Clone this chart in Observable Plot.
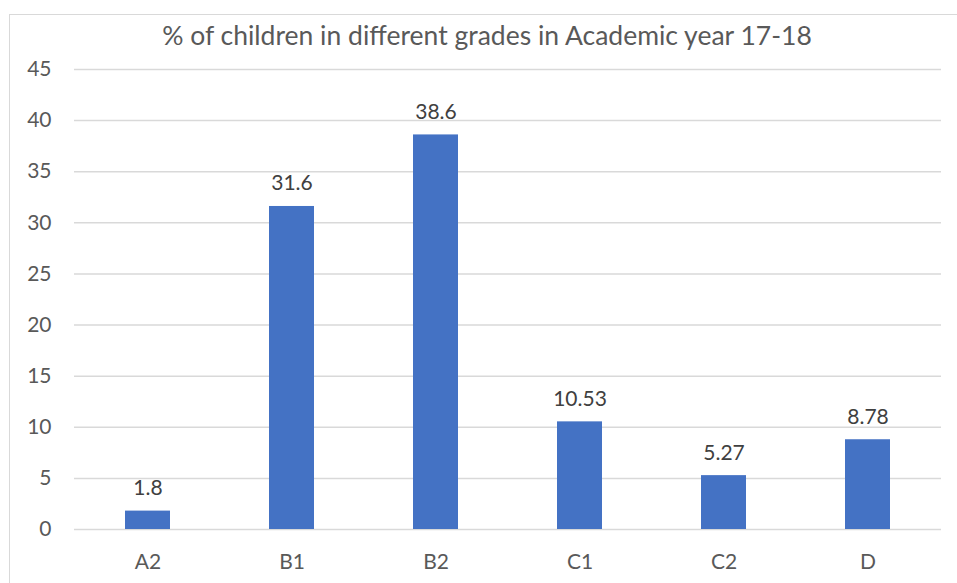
<!DOCTYPE html>
<html>
<head>
<meta charset="utf-8">
<script src="https://cdn.jsdelivr.net/npm/d3@7"></script>
<script src="https://cdn.jsdelivr.net/npm/@observablehq/plot@0.6"></script>
<style>
  html, body { margin: 0; padding: 0; background: #fff; overflow: hidden; }
  body { width: 957px; height: 583px; position: relative; font-family: Lato, "Open Sans", sans-serif; }
  #frame { position: absolute; left: 9px; top: 14px; width: 960px; height: 600px; border: 1px solid #d9d9d9; box-sizing: border-box; }
  #title { position: absolute; left: 9px; width: 956px; top: 0; height: 55px; line-height: 70px; text-align: center; font-size: 26.5px; color: #595959; white-space: nowrap; }
  #chart { position: absolute; left: 0; top: 55px; }
</style>
</head>
<body>
<div id="frame"></div>
<div id="title">% of children in different grades in Academic year 17-18</div>
<div id="chart"></div>
<script>
const grades = ["A2", "B1", "B2", "C1", "C2", "D"];
const percents = [1.8, 31.6, 38.6, 10.53, 5.27, 8.78];
const labels = ["1.8", "31.6", "38.6", "10.53", "5.27", "8.78"];
const yTicks = [0, 5, 10, 15, 20, 25, 30, 35, 40, 45];

const data = grades.map((g, i) => ({grade: g, value: percents[i], label: labels[i]}));

const chart = Plot.plot({
  width: 957,
  height: 528,
  marginLeft: 74,
  marginRight: 16,
  marginTop: 14,
  marginBottom: 54,
  style: {fontFamily: "Lato, 'Open Sans', sans-serif", fontSize: "21px", color: "#595959", background: "transparent"},
  x: {domain: grades, paddingInner: 0.69, paddingOuter: 0.345, label: null},
  y: {domain: [0, 45], label: null},
  marks: [
    Plot.ruleY(yTicks, {stroke: "#d9d9d9", strokeWidth: 1.5}),
    Plot.barY(data, {x: "grade", y: "value", fill: "#4472C4"}),
    Plot.text(data, {x: "grade", y: "value", text: "label", lineAnchor: "bottom", dy: -16, fill: "#404040", fontSize: 21}),
    Plot.axisY({ticks: yTicks, tickSize: 0, tickPadding: 23, fill: "#595959", fontSize: 21, label: null}),
    Plot.axisX({tickSize: 0, tickPadding: 25, fill: "#595959", fontSize: 21, label: null})
  ]
});
document.getElementById("chart").appendChild(chart);
</script>
</body>
</html>
